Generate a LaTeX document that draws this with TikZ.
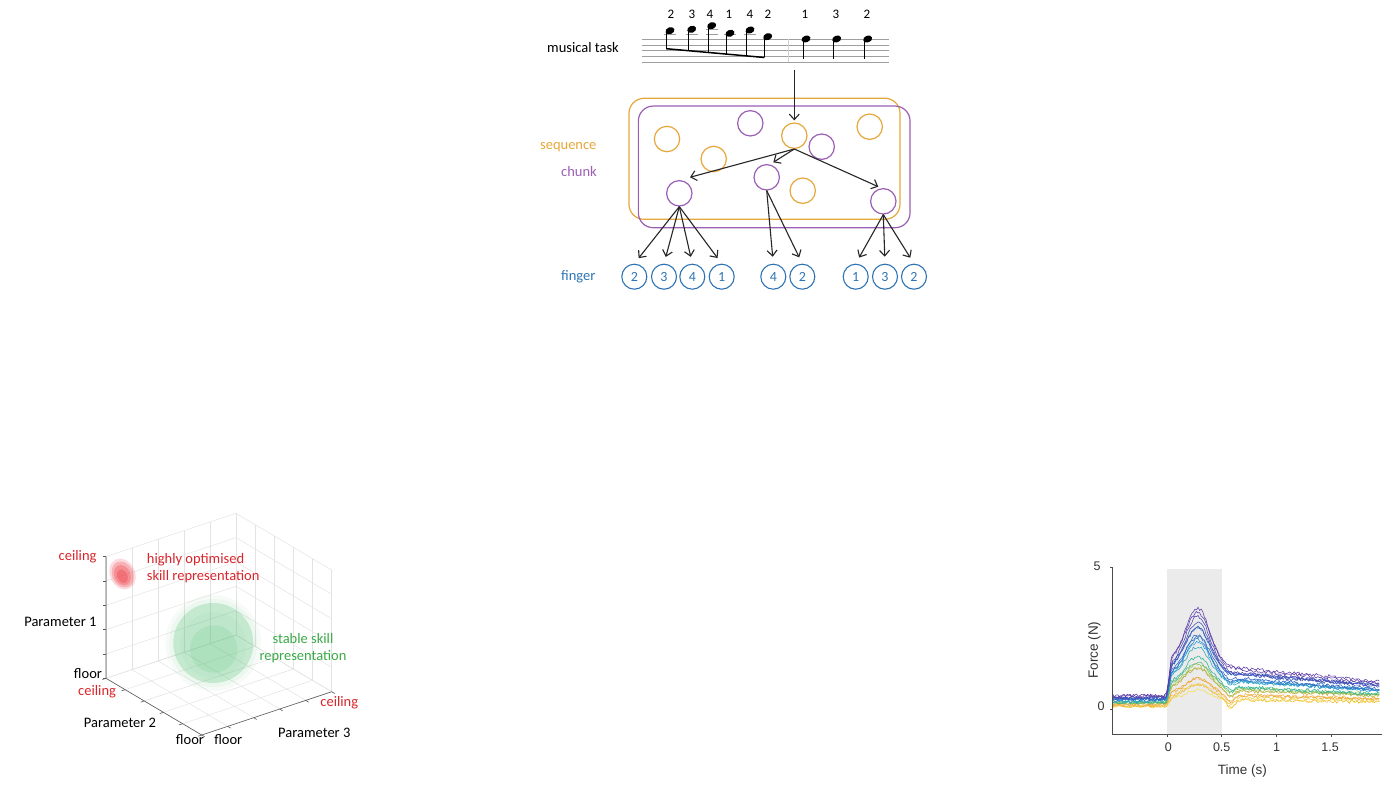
\documentclass[tikz,border=0pt]{standalone}
\usepackage{fontspec}
\setmainfont{Carlito}
\newfontfamily\arialfont{Liberation Sans}
\usetikzlibrary{arrows.meta,calc}
\definecolor{seqorange}{HTML}{E6A83A}
\definecolor{chunkpurple}{HTML}{9B5FB5}
\definecolor{fingerblue}{HTML}{2E74B5}
\definecolor{hired}{HTML}{D9252B}
\definecolor{stgreen}{HTML}{3BAA48}
\definecolor{blobred}{HTML}{EE3B45}
\definecolor{blobgreen}{HTML}{5CC47A}
\definecolor{pc0}{HTML}{F3E24A}
\definecolor{pc1}{HTML}{F0A43A}
\definecolor{pc2}{HTML}{8CC450}
\definecolor{pc3}{HTML}{2EB39A}
\definecolor{pc4}{HTML}{2A9FD6}
\definecolor{pc5}{HTML}{2F66C4}
\definecolor{pc6}{HTML}{5B3AA8}
\begin{document}
\begin{tikzpicture}[x=1pt,y=-1pt,font=\fontsize{14.5}{17}\selectfont,
  seqc/.style={circle,draw=seqorange,line width=1.2pt,minimum size=25.4pt,inner sep=0pt},
  chc/.style={circle,draw=chunkpurple,line width=1.2pt,minimum size=25.4pt,inner sep=0pt},
  fing/.style={circle,draw=fingerblue,line width=1.1pt,minimum size=25pt,inner sep=0pt,text=fingerblue,font=\fontsize{14}{16}\selectfont},
  arr/.style={-{Straight Barb[length=5.5pt,width=10pt]},line width=1.1pt,black!85},
  farr/.style={arr,shorten >=7pt},
  fnum/.style={font=\fontsize{13}{15}\selectfont},
  staff/.style={gray!75,line width=0.5pt},
  grid3/.style={gray!22,line width=0.5pt},
  axis3/.style={gray!70!black,line width=0.6pt},
  redlbl/.style={text=hired},
  plotlbl/.style={font=\arialfont\fontsize{12.5}{14}\selectfont,text=black!80},
  curve/.style={line width=0.55pt}
]
\useasboundingbox (0,0) rectangle (1400,792);
\fill[white] (0,0) rectangle (1400,792);

% ================= musical task =================
\node (mtask) at (583,47.7) {musical task};
\foreach \yy in {39.3,45,50.7,56.3,61.8} \draw[staff] (642,\yy) -- (889,\yy);
\draw[gray!35,line width=0.5pt] (788,39.3) -- (788,61.8);
% ledger lines
\foreach \nx in {670,691.7,711.7,730,750} \draw[staff] (\nx-6,33.8) -- (\nx+6,33.8);
\draw[staff] (711.7-6,29.5) -- (711.7+6,29.5);
% beamed notes
\foreach \nx/\ny in {670/30.7,691.7/29.3,711.7/25.7,730/33.3,750/30,767.7/36.7} {
  \pgfmathsetmacro\byy{48.7+(\nx-3.5-666.5)*0.0898}
  \draw[line width=0.7pt] (\nx-3.5,\ny) -- (\nx-3.5,\byy);
  \fill[rotate around={20:(\nx,\ny)}] (\nx,\ny) ellipse[x radius=4.6pt,y radius=3.4pt];
}
\draw[line width=1.5pt] (666.2,48.7) -- (764.5,57.5);
\foreach \nx in {806,836.7,867.7} {
  \draw[line width=0.7pt] (\nx-3,39) -- (\nx-3,58.7);
  \fill[rotate around={20:(\nx,39)}] (\nx,39) ellipse[x radius=4.6pt,y radius=3.4pt];
}
\foreach \nx/\t/\nm in {671/2/n1,692/3/n2,710/4/n3,729/1/n4,750/4/n5,768/2/n6,805/1/n7,836/3/n8,867/2/n9}
  \node[fnum] (\nm) at (\nx,14) {\t};

% ================= hierarchy =================
\node[draw=seqorange,line width=1.2pt,rounded corners=15pt,minimum width=271pt,minimum height=121pt,inner sep=0pt] (seqbox) at (764.5,158.8) {};
\node[draw=chunkpurple,line width=1.2pt,rounded corners=15pt,minimum width=271.7pt,minimum height=121.7pt,inner sep=0pt] (chbox) at (774.2,166.9) {};

\node[text=seqorange] (seqlbl) at (568.3,146.7) {sequence};
\node[text=chunkpurple] (chlbl) at (579,171.7) {chunk};
\node[text=fingerblue] (flbl) at (578.3,276.7) {finger};

\node[seqc] (s1) at (667,139) {};
\node[chc] (p1) at (750.3,123.3) {};
\node[seqc] (s3) at (794.3,135.7) {};
\node[chc] (p2) at (821.7,146.7) {};
\node[seqc] (s4) at (869.7,126.7) {};
\node[seqc] (s2) at (713.7,159) {};
\node[seqc] (s5) at (802.7,190.7) {};
\node[chc] (c1) at (679.3,193.3) {};
\node[chc] (c2) at (766.7,177.3) {};
\node[chc] (c3) at (883.3,201.3) {};

\coordinate (staffout) at (794.3,70);
\draw[arr,shorten >=2pt] (staffout) -- (s3.north);

\coordinate (t1) at (690,177.3);
\coordinate (t2) at (773.3,162.3);
\coordinate (t3) at (878.3,186.7);
\draw[arr] (s3.south) -- (t1);
\draw[arr] (s3.south) -- (t2);
\draw[arr] (s3.south) -- (t3);

\foreach \fx/\t/\nm in {634.3/2/f1,664/3/f2,692.3/4/f3,721.7/1/f4,773.3/4/f5,802.3/2/f6,855.7/1/f7,885/3/f8,914/2/f9}
  \node[fing] (\nm) at (\fx,276.7) {\t};

\foreach \f in {f1,f2,f3,f4} \draw[farr] (c1.south) -- (\f.north);
\foreach \f in {f5,f6} \draw[farr] (c2.south) -- (\f.north);
\foreach \f in {f7,f8,f9} \draw[farr] (c3.south) -- (\f.north);

% ================= 3D skill space =================
\foreach \i in {0,...,5} {
  \pgfmathsetmacro\a{\i/5}
  \draw[grid3] (201.7-95.7*\a,735-56.7*\a) -- ++(130,-43.3);
  \draw[grid3] (201.7+130*\a,735-43.3*\a) -- ++(-95.7,-56.7);
  \draw[grid3] (106+130*\a,678.3-43.3*\a) -- ++(0,-121.7);
  \draw[grid3] (106,678.3-121.7*\a) -- ++(130,-43.3);
  \draw[grid3] (331.7-95.7*\a,691.7-56.7*\a) -- ++(0,-121.7);
  \draw[grid3] (331.7,691.7-121.7*\a) -- ++(-95.7,-56.7);
  \draw[axis3] (106,678.3-121.7*\a) -- ++(-3,0);
  \draw[axis3] (201.7-95.7*\a,735-56.7*\a) -- ++(-3.6,1.2);
  \draw[axis3] (201.7+130*\a,735-43.3*\a) -- ++(3,1.8);
}
\draw[axis3] (106,556.6) -- (106,678.3) -- (201.7,735) -- (331.7,691.7);

% red blob
\begin{scope}[rotate around={25:(122.5,574)}]
  \fill[blobred,opacity=0.18] (122.5,574) ellipse[x radius=12.5pt,y radius=16pt];
  \fill[blobred,opacity=0.25] (122.5,574.5) ellipse[x radius=10.5pt,y radius=13.5pt];
  \fill[blobred,opacity=0.3] (122,575) ellipse[x radius=8pt,y radius=10.5pt];
  \fill[blobred,opacity=0.35] (121.5,576) ellipse[x radius=5pt,y radius=7pt];
\end{scope}

% green sphere
\fill[blobgreen,opacity=0.05] (213.3,643) circle[radius=48pt];
\fill[blobgreen,opacity=0.07] (213.3,643) circle[radius=44pt];
\fill[blobgreen,opacity=0.27] (213.3,643) circle[radius=40pt];
\fill[blobgreen,opacity=0.06] (213.3,645) circle[radius=33pt];
\fill[blobgreen,opacity=0.16] (213.7,649) circle[radius=23.7pt];

\node[redlbl,anchor=east] (ceil1) at (100,556.7) {ceiling};
\node[anchor=east] (par1) at (100,622.3) {Parameter 1};
\node[anchor=east] (floor1) at (105.5,673.3) {floor};
\node[redlbl,anchor=east] (ceil2) at (119.5,691.7) {ceiling};
\node (par2) at (120,723.3) {Parameter 2};
\node (floor2) at (190,740) {floor};
\node (floor3) at (228.3,740) {floor};
\node (par3) at (314.3,733.3) {Parameter 3};
\node[redlbl] (ceil3) at (339.3,702.7) {ceiling};
\node[redlbl,anchor=west,align=left,inner sep=0pt] (hiopt) at (146.7,568.3) {highly optimised\\[0.4pt]skill representation};
\node[text=stgreen,align=center,inner sep=0pt] (stable) at (303,648.3) {stable skill\\[0.4pt]representation};

% ================= force plot =================
\fill[gray!16] (1167.3,569) rectangle (1221.7,734.3);
\pgfmathsetseed{7}
\foreach \k/\col in {0.00/pc0,0.04/pc0!70!pc1,0.08/pc0!40!pc1,0.13/pc0!20!pc1,0.18/pc1,0.23/pc1!60!pc2,0.30/pc1!30!pc2,0.36/pc2,0.42/pc2!50!pc3,0.48/pc3,0.55/pc3!50!pc4,0.60/pc4,0.65/pc4!60!pc5,0.70/pc4!30!pc5,0.74/pc5,0.78/pc5,0.82/pc5!75!pc6,0.86/pc5!50!pc6,0.90/pc5!30!pc6,0.95/pc6,1.00/pc6} {
  \pgfmathsetmacro\bs{0.1+0.37*\k+0.04*rand}
  \pgfmathsetmacro\cz{0.35+1.35*\k+0.08*rand}
  \pgfmathsetmacro\dd{0.05+0.33*\k}
  \pgfmathsetmacro\pkA{0.3+1.6*\k+0.15*rand}
  \pgfmathsetmacro\dip{0.3*(1-\k)}
  \draw[curve,color=\col] plot[domain=-0.5:1.95,samples=170]
    ({1167.3+108.7*\x},{709.3-28.4*(\bs+min(1,max(0,(\x+0.01)/0.05))*((\cz-\bs)-\dd*\x+\pkA*exp(max(-9,-((\x-0.28)*(\x-0.28))/0.025))-\dip*exp(max(-9,-((\x-0.58)*(\x-0.58))/0.003)))+0.06*rand)});
}
\draw[gray!60!black,line width=0.6pt] (1112.7,567.3) -- (1112.7,734.3) -- (1381.7,734.3);
\draw[gray!60!black,line width=0.6pt] (1112.7,567.3) -- ++(-3,0);
\draw[gray!60!black,line width=0.6pt] (1112.7,709.3) -- ++(-3,0);
\foreach \tx in {1167.3,1221.7,1276,1331} \draw[gray!60!black,line width=0.6pt] (\tx,734.3) -- ++(0,2.5);
\node[plotlbl] (y5) at (1097,566.7) {5};
\node[plotlbl] (y0) at (1101,705.7) {0};
\node[plotlbl] (x0) at (1168.3,747.5) {0};
\node[plotlbl] (x05) at (1221.7,747.5) {0.5};
\node[plotlbl] (x1) at (1276.7,747.5) {1};
\node[plotlbl] (x15) at (1330,747.5) {1.5};
\node[plotlbl,font=\arialfont\fontsize{13.5}{15}\selectfont] (xlab) at (1242.3,770.7) {Time (s)};
\node[plotlbl,font=\arialfont\fontsize{13.5}{15}\selectfont,rotate=90] (ylab) at (1094.3,650) {Force (N)};
\end{tikzpicture}
\end{document}
